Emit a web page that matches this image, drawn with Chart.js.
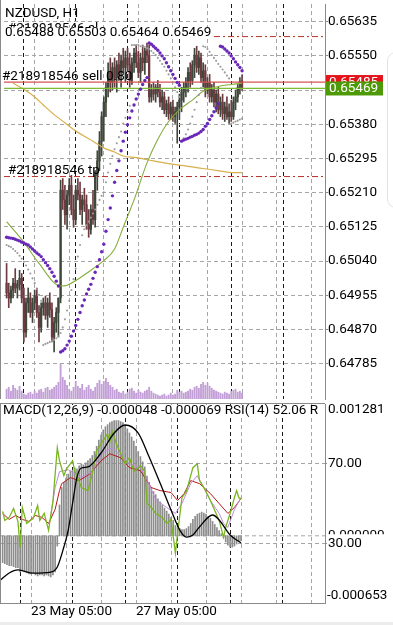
<!DOCTYPE html>
<html>
<head>
<meta charset="utf-8">
<title>NZDUSD, H1</title>
<script src="https://cdn.jsdelivr.net/npm/chart.js@4.4.1/dist/chart.umd.min.js"></script>
<style>
  html, body { margin: 0; padding: 0; background: #fff; }
  #wrap { position: relative; width: 393px; height: 625px; overflow: hidden; }
  #mainBox { position: absolute; left: 0; top: 0; width: 393px; height: 403px; }
  #subBox { position: absolute; left: 0; top: 403px; width: 393px; height: 222px; }
  #tab { position: absolute; left: 387px; top: 52px; width: 24px; height: 154px; border: 1px solid #e2e2e2; border-radius: 9px; }
  #foot { position: absolute; left: 0; top: 622px; width: 393px; height: 3px; background: #ececec; }
</style>
</head>
<body>
<div id="wrap">
  <div id="mainBox"><canvas id="mainChart"></canvas></div>
  <div id="subBox"><canvas id="subChart"></canvas></div>
  <div id="tab"></div>
  <div id="foot"></div>
</div>
<script>
Chart.defaults.font.family = 'Roboto';
Chart.defaults.font.size = 13.5;
Chart.defaults.color = '#000';

// hourly candles, 22 May 16:00 .. 29 May 05:00 (index 0..109)
const open = [
  0.64985,0.64961,0.64948,0.64968,0.64985,0.64973,0.64982,0.64997,
  0.64948,0.64863,0.64936,0.64948,0.64912,0.64936,0.64953,0.64912,
  0.64875,0.64924,0.64936,0.64905,0.64936,0.64919,0.64851,0.64887,
  0.64912,0.64948,0.65216,0.65192,0.65155,0.65204,0.65228,0.65168,
  0.65143,0.65216,0.65204,0.65168,0.65192,0.65180,0.65131,0.65119,
  0.65168,0.65143,0.65253,0.65289,0.65338,0.65399,0.65435,0.65472,
  0.65509,0.65484,0.65521,0.65496,0.65528,0.65509,0.65538,0.65521,
  0.65545,0.65528,0.65489,0.65533,0.65557,0.65533,0.65509,0.65545,
  0.65533,0.65562,0.65552,0.65448,0.65465,0.65455,0.65472,0.65460,
  0.65435,0.65448,0.65416,0.65431,0.65406,0.65423,0.65399,0.65411,
  0.65423,0.65440,0.65460,0.65472,0.65484,0.65509,0.65489,0.65528,
  0.65552,0.65521,0.65545,0.65496,0.65513,0.65465,0.65484,0.65448,
  0.65465,0.65435,0.65455,0.65416,0.65435,0.65406,0.65423,0.65399,
  0.65411,0.65399,0.65435,0.65448,0.65472,0.65488
];
const high = [
  0.65034,0.64985,0.64978,0.64997,0.65021,0.64992,0.65017,0.65009,
  0.64973,0.64948,0.64973,0.64961,0.64948,0.64968,0.64973,0.64929,
  0.64936,0.64948,0.64953,0.64948,0.64961,0.64936,0.64900,0.64924,
  0.64948,0.65241,0.65245,0.65228,0.65216,0.65245,0.65253,0.65204,
  0.65228,0.65245,0.65236,0.65204,0.65221,0.65204,0.65168,0.65180,
  0.65216,0.65265,0.65314,0.65362,0.65411,0.65448,0.65484,0.65533,
  0.65545,0.65533,0.65545,0.65538,0.65557,0.65552,0.65569,0.65562,
  0.65569,0.65557,0.65545,0.65569,0.65577,0.65562,0.65557,0.65577,
  0.65569,0.65582,0.65577,0.65479,0.65484,0.65479,0.65489,0.65479,
  0.65465,0.65460,0.65440,0.65448,0.65435,0.65440,0.65423,0.65435,
  0.65455,0.65472,0.65484,0.65496,0.65521,0.65533,0.65538,0.65569,
  0.65574,0.65562,0.65557,0.65533,0.65528,0.65496,0.65504,0.65479,
  0.65484,0.65465,0.65472,0.65448,0.65455,0.65435,0.65448,0.65431,
  0.65440,0.65448,0.65465,0.65479,0.65496,0.65503
];
const low = [
  0.64948,0.64924,0.64936,0.64948,0.64961,0.64948,0.64968,0.64936,
  0.64839,0.64851,0.64912,0.64900,0.64887,0.64919,0.64900,0.64839,
  0.64863,0.64905,0.64895,0.64875,0.64900,0.64839,0.64814,0.64863,
  0.64851,0.64936,0.65168,0.65131,0.65119,0.65180,0.65155,0.65124,
  0.65131,0.65192,0.65155,0.65131,0.65163,0.65119,0.65099,0.65107,
  0.65131,0.65124,0.65216,0.65265,0.65301,0.65338,0.65399,0.65448,
  0.65460,0.65465,0.65472,0.65460,0.65489,0.65472,0.65509,0.65484,
  0.65513,0.65472,0.65479,0.65509,0.65521,0.65496,0.65484,0.65513,
  0.65504,0.65533,0.65435,0.65435,0.65440,0.65435,0.65448,0.65423,
  0.65416,0.65406,0.65399,0.65392,0.65392,0.65387,0.65382,0.65333,
  0.65392,0.65411,0.65435,0.65448,0.65460,0.65472,0.65479,0.65496,
  0.65509,0.65504,0.65484,0.65472,0.65448,0.65455,0.65435,0.65435,
  0.65423,0.65411,0.65406,0.65399,0.65392,0.65387,0.65392,0.65382,
  0.65387,0.65392,0.65416,0.65435,0.65455,0.65464
];
const close = [
  0.64961,0.64948,0.64968,0.64985,0.64973,0.64982,0.64997,0.64948,
  0.64863,0.64936,0.64948,0.64912,0.64936,0.64953,0.64912,0.64875,
  0.64924,0.64936,0.64905,0.64936,0.64919,0.64851,0.64887,0.64912,
  0.64948,0.65216,0.65192,0.65155,0.65204,0.65228,0.65168,0.65143,
  0.65216,0.65204,0.65168,0.65192,0.65180,0.65131,0.65119,0.65168,
  0.65143,0.65253,0.65289,0.65338,0.65399,0.65435,0.65472,0.65509,
  0.65484,0.65521,0.65496,0.65528,0.65509,0.65538,0.65521,0.65545,
  0.65528,0.65489,0.65533,0.65557,0.65533,0.65509,0.65545,0.65533,
  0.65562,0.65552,0.65448,0.65465,0.65455,0.65472,0.65460,0.65435,
  0.65448,0.65416,0.65431,0.65406,0.65423,0.65399,0.65411,0.65423,
  0.65440,0.65460,0.65472,0.65484,0.65509,0.65489,0.65528,0.65552,
  0.65521,0.65545,0.65496,0.65513,0.65465,0.65484,0.65448,0.65465,
  0.65435,0.65455,0.65416,0.65435,0.65406,0.65423,0.65399,0.65411,
  0.65399,0.65435,0.65448,0.65472,0.65487,0.65469
];
const volume = [
  500,600,400,700,550,450,650,400,
  250,200,300,350,250,400,300,450,500,350,550,600,450,500,600,700,850,
  1800,
  1100,950,700,500,400,600,900,650,550,750,450,600,700,500,400,
  600,800,950,750,900,1050,850,
  700,600,450,500,350,300,400,250,350,500,550,400,300,450,350,300,400,450,
  600,400,300,250,200,150,200,250,150,200,300,200,250,450,
  350,400,300,350,400,500,450,600,650,550,
  750,850,700,800,650,550,450,400,350,300,250,350,300,250,400,
  450,500,350,400,300
];
// parabolic SAR (purple) and a faster SAR (grey)
const sarSlow = [
  0.65099,0.65098,0.65097,0.65096,0.65094,0.65092,0.65090,0.65087,0.65085,0.65082,
  0.65080,0.65075,0.65070,0.65065,0.65060,0.65056,0.65051,0.65043,0.65036,0.65029,
  0.65021,0.65012,0.65002,0.64990,0.64978,
  0.64814,0.64817,0.64822,0.64831,0.64841,0.64853,0.64866,0.64880,0.64895,0.64912,
  0.64929,0.64943,0.64958,0.64970,0.64982,0.64997,0.65012,0.65026,0.65043,0.65063,
  0.65082,0.65114,0.65143,0.65172,0.65202,0.65236,0.65265,0.65289,0.65314,0.65338,
  0.65360,0.65379,0.65396,0.65413,0.65428,0.65443,0.65455,0.65467,0.65479,0.65489,0.65496,
  0.65582,0.65579,0.65574,0.65569,0.65564,0.65557,0.65550,0.65543,0.65533,0.65523,
  0.65513,0.65504,0.65494,0.65484,0.65477,
  0.65338,0.65341,0.65343,0.65345,0.65348,0.65350,0.65353,0.65355,0.65358,0.65362,
  0.65367,0.65375,0.65382,0.65392,0.65401,0.65411,0.65421,0.65431,
  0.65574,0.65572,0.65567,0.65562,0.65557,0.65550,0.65543,0.65535,0.65528,0.65521,0.65513
];
const sarFast = [
  0.65080,0.65077,0.65075,0.65070,0.65065,0.65060,0.65053,0.65046,0.65038,0.65029,
  0.65019,0.65009,0.64997,0.64985,0.64970,0.64956,0.64941,
  0.64831,0.64834,0.64836,0.64839,0.64841,0.64844,0.64848,0.64853,0.64861,0.64875,
  0.64895,0.64917,0.64941,0.64968,0.64995,0.65021,0.65051,0.65080,0.65104,0.65119,
  0.65129,0.65138,0.65148,0.65158,0.65168,0.65180,0.65192,0.65202,0.65211,0.65236,
  0.65260,0.65282,0.65301,0.65318,0.65333,0.65348,0.65362,0.65382,0.65396,0.65411,0.65426,
  0.65577,0.65577,0.65577,0.65577,0.65574,0.65574,0.65572,0.65569,0.65567,0.65562,
  0.65557,0.65552,0.65545,0.65538,0.65530,0.65523,0.65513,0.65504,0.65494,0.65484,
  0.65472,0.65460,0.65448,
  0.65338,0.65345,0.65355,0.65367,0.65382,0.65399,0.65416,0.65435,0.65453,0.65470,
  0.65574,0.65572,0.65567,0.65560,0.65552,0.65545,0.65538,0.65530,0.65523,0.65516,
  0.65509,0.65501,0.65494,
  0.65382,0.65384,0.65387,0.65389,0.65392,0.65394
];
const maFastIdx = [0, 8, 15, 25, 28, 40, 45, 50, 54, 59, 65, 70, 75, 80, 86, 91, 98, 104, 109];
const maFastVal = [0.65138,0.65087,0.65034,0.64978,0.64980,0.65021,0.65041,0.65070,0.65124,0.65192,
  0.65284,0.65343,0.65387,0.65416,0.65440,0.65462,0.65474,0.65479,0.65482];
const maSlowIdx = [3, 8, 13, 17, 22, 27, 31, 36, 40, 45, 50, 54, 60, 68, 75, 82, 88, 95, 100, 104, 109];
const maSlowVal = [0.65482,0.65467,0.65448,0.65428,0.65404,0.65384,0.65367,0.65350,0.65338,0.65321,
  0.65311,0.65301,0.65297,0.65289,0.65282,0.65277,0.65272,0.65267,0.65263,0.65260,0.65260];

const priceTicks = [0.65635,0.65550,0.65465,0.65380,0.65295,0.65210,0.65125,0.65040,0.64955,0.64870,0.64785];
const gridIdx = [13, 29, 45, 61, 77, 93, 109, 125, 141];
const daySepIdx = [8, 32, 56, 80, 104, 128];
const timeIdx = [13, 61];
const timeLabels = ['23 May 05:00', '27 May 05:00'];

const slPrice = 0.65598, sellPrice = 0.65485, bidPrice = 0.65469, tpPrice = 0.65250;
const symbolText = 'NZDUSD, H1';
const ohlcText = '0.65488 0.65503 0.65464 0.65469';
const slLabel = '#218918546 sl';
const sellLabel = '#218918546 sell 0.80';
const tpLabel = '#218918546 tp';

// MACD / RSI panel
const macdHist = [
  -0.00026,-0.00027,-0.00028,-0.00029,-0.00029,-0.00030,-0.00031,-0.00031,-0.00035,-0.00034,
  -0.00035,-0.00036,-0.00037,-0.00037,-0.00036,-0.00038,-0.00039,-0.00038,-0.00038,-0.00039,
  -0.00038,-0.00039,-0.00040,-0.00038,-0.00035,
  -0.00010,0.00030,0.00047,0.00052,0.00056,0.00060,0.00063,0.00064,0.00066,0.00065,
  0.00068,0.00070,0.00069,0.00071,0.00073,0.00075,0.00078,0.00082,0.00087,0.00093,
  0.00098,0.00103,0.00106,0.00108,0.00110,0.00111,0.00112,0.00112,0.00112,0.00111,
  0.00110,0.00107,0.00104,0.00100,0.00096,0.00092,0.00087,0.00082,0.00077,0.00072,
  0.00067,0.00058,0.00052,0.00047,0.00043,0.00040,0.00036,0.00033,0.00030,0.00027,
  0.00024,0.00021,0.00018,0.00015,0.00010,0.00008,0.00007,0.00006,0.00006,0.00007,
  0.00009,0.00012,0.00016,0.00019,0.00021,0.00022,0.00023,0.00022,0.00021,0.00019,
  0.00017,0.00014,0.00011,0.00008,0.00005,0.00002,-0.00002,-0.00006,-0.00009,-0.00011,
  -0.00011,-0.00010,-0.00008,-0.00006,-0.000048
];
const signalIdx = [-1, 3, 7, 14, 22, 25, 28, 30, 32, 34, 36, 39, 45, 51, 56, 62, 67, 72, 77, 81, 84, 87, 90, 96, 99, 104, 109];
const signalVal = [-0.000430,-0.000362,-0.000332,-0.000362,-0.000352,-0.000303,-0.000109,0.000056,0.000319,
  0.000571,0.000659,0.000669,0.000805,0.000999,0.001077,0.000999,0.000766,0.000513,0.000251,0.000056,
  -0.000012,0.000008,0.000086,0.000202,0.000154,0.000008,-0.000069];
const rsiIdx = [0,1,3,5,7,8,9,11,14,16,17,19,21,23,25,26,28,29,32,33,34,36,39,41,43,45,48,49,50,52,
  54,56,58,60,63,65,66,68,70,73,75,77,79,80,82,84,87,89,90,92,95,97,99,101,102,104,106,107,108,109];
const rsiVal = [46,41.5,43,47.5,41,28,48,40,42.5,49,41.5,45,36.5,51,78,71.5,64,67,71.5,66,
  64,58,56.5,65,76.5,80,85,81,86.5,80,75,70,73,66,69,66,50,48,45,43,
  40,42,25,35,53,56,68,70,61.5,58,51.5,46.5,41.5,33,38,45,53,56.5,53,52.06];
const rsiRedIdx = [0,3,6,9,12,15,18,21,24,26,27,31,35,40,45,49,54,58,63,68,72,77,80,83,86,90,95,99,103,106,109];
const rsiRedVal = [45,42,44,42,41,44,43,40,47,56.5,60,63,61.5,65,71.5,75,73,68,66.5,58,
  56.5,55.5,51.5,55,61.5,60,55,50,45,48,52.5];
const rsiPurpleIdx = [22,24,26,30,36,41,45,50,54,58,63,66,70,75,79,82,86,89,92,95,99,101,103,106,109];
const rsiPurpleVal = [44,58,66,67,63,66,75,78,74,70,68,62,52,48,45,50,60,64,58,51.5,45,40,38,47,53];
const rsiTicks = [70, 30];
const macdMin = -0.000653, macdMax = 0.001281;
const subTitle = 'MACD(12,26,9) -0.000048 -0.000069 RSI(14) 52.06 R';

const xMin = -1.2, xMax = 147.4;
const idx = open.map((_, i) => i);
const pts = (xs, ys) => xs.map((x, k) => ({x: x, y: ys[k]}));
const upColor = '#3f463a', downColor = '#6e3a40';
const candleColor = idx.map(i => close[i] >= open[i] ? upColor : downColor);
const vLines = gridIdx.concat(daySepIdx).sort((a, b) => a - b);

function xAxis(showLabels) {
    return {
        type: 'linear', min: xMin, max: xMax, offset: false,
        afterBuildTicks: s => { s.ticks = vLines.map(v => ({value: v})); },
        grid: {
            offset: false, drawTicks: false, lineWidth: 1,
            color: c => (c.tick && daySepIdx.includes(c.tick.value)) ? '#1a1a1a' : '#a6a6a6'
        },
        border: { display: showLabels, color: '#8a8a8a', dash: [4, 3] },
        ticks: {
            display: showLabels, autoSkip: false, maxRotation: 0, minRotation: 0, align: 'start', padding: 1,
            callback: v => { const k = timeIdx.indexOf(v); return k < 0 ? '' : timeLabels[k]; }
        },
        afterFit: s => { s.height = showLabels ? 22 : 0; s.paddingLeft = 0; s.paddingRight = 0; }
    };
}

function hLine(label, price, color, dash, width) {
    return {
        type: 'line', label: label, yAxisID: 'y',
        data: [{x: xMin, y: price}, {x: xMax, y: price}],
        borderColor: color, borderDash: dash, borderWidth: width, pointRadius: 0, order: 5
    };
}

const mainText = {
    id: 'mainText',
    afterDraw(chart) {
        const {ctx, chartArea: a, scales: {y}} = chart;
        ctx.save();
        ctx.strokeStyle = '#8a8a8a';
        ctx.lineWidth = 1;
        ctx.beginPath();
        ctx.moveTo(0.5, 0);
        ctx.lineTo(0.5, a.bottom);
        ctx.stroke();

        ctx.font = '13.5px Roboto';
        ctx.textAlign = 'left';
        ctx.fillStyle = '#000';
        ctx.textBaseline = 'alphabetic';
        ctx.fillText(slLabel, 8, y.getPixelForValue(slPrice) - 5);
        ctx.fillText(sellLabel, 2, y.getPixelForValue(sellPrice) - 2);
        ctx.fillText(tpLabel, 8, y.getPixelForValue(tpPrice) - 3);

        ctx.textBaseline = 'middle';
        const w = ctx.measureText(ohlcText).width;
        ctx.fillStyle = '#fff';
        ctx.fillRect(3, 27.5, w + 4, 11);
        ctx.fillStyle = '#000';
        ctx.fillText(ohlcText, 5, 32.5);
        ctx.fillText(symbolText, 5, 13.5);

        const box = (price, color) => {
            const py = y.getPixelForValue(price);
            ctx.fillStyle = color;
            ctx.fillRect(a.right + 1, py - 7, 57, 14);
            ctx.fillStyle = '#fff';
            ctx.fillText(price.toFixed(5), a.right + 4, py + 0.5);
        };
        box(sellPrice, '#e3141b');
        box(bidPrice, '#4e9a06');
        ctx.restore();
    }
};

const subText = {
    id: 'subText',
    beforeDraw(chart) {
        const {ctx, chartArea: a, scales: {macd}} = chart;
        ctx.save();
        ctx.font = '13.5px Roboto';
        ctx.fillStyle = '#000';
        ctx.textBaseline = 'middle';
        ctx.textAlign = 'left';
        ctx.fillText((0).toFixed(6), a.right + 3, macd.getPixelForValue(0));
        ctx.restore();
    },
    afterDraw(chart) {
        const {ctx, chartArea: a} = chart;
        ctx.save();
        ctx.strokeStyle = '#8a8a8a';
        ctx.lineWidth = 1;
        ctx.beginPath();
        ctx.moveTo(0, 0.5);
        ctx.lineTo(a.right, 0.5);
        ctx.moveTo(0.5, 0);
        ctx.lineTo(0.5, a.bottom);
        ctx.stroke();

        ctx.font = '13.5px Roboto';
        ctx.textBaseline = 'middle';
        ctx.textAlign = 'left';
        ctx.save();
        ctx.beginPath();
        ctx.rect(1, a.top, a.right - 2, 16);
        ctx.clip();
        const w = ctx.measureText(subTitle).width;
        ctx.fillStyle = '#fff';
        ctx.fillRect(2, a.top + 1, w + 2, 13);
        ctx.fillStyle = '#000';
        ctx.fillText(subTitle, 3, a.top + 6.5);
        ctx.restore();

        ctx.fillStyle = '#000';
        ctx.fillText(macdMax.toFixed(6), a.right + 3, a.top + 6);
        ctx.fillText(macdMin.toFixed(6), a.right + 2, a.bottom - 7);
        ctx.restore();
    }
};

new Chart(document.getElementById('mainChart'), {
    type: 'bar',
    data: {
        datasets: [
            { type: 'bar', label: 'Volume', yAxisID: 'vol', data: idx.map(i => ({x: i, y: volume[i]})),
              backgroundColor: '#c29fd6', barThickness: 1.2, grouped: false, order: 10 },
            { type: 'bar', label: 'Range', yAxisID: 'y', data: idx.map(i => ({x: i, y: [low[i], high[i]]})),
              backgroundColor: candleColor, barThickness: 1, grouped: false, order: 9 },
            { type: 'bar', label: 'Body', yAxisID: 'y', data: idx.map(i => ({x: i, y: [open[i], close[i]]})),
              backgroundColor: candleColor, barThickness: 1.6, minBarLength: 1, grouped: false, order: 8 },
            { type: 'line', label: 'MA slow', yAxisID: 'y', data: pts(maSlowIdx, maSlowVal),
              borderColor: '#d8b04a', borderWidth: 1.2, pointRadius: 0, cubicInterpolationMode: 'monotone', order: 7 },
            { type: 'line', label: 'MA fast', yAxisID: 'y', data: pts(maFastIdx, maFastVal),
              borderColor: '#86ad3c', borderWidth: 1.1, pointRadius: 0, cubicInterpolationMode: 'monotone', order: 6 },
            hLine('SL', slPrice, '#b8302a', [6, 3, 2, 3], 1),
            hLine('Sell', sellPrice, '#d9534f', [], 1.2),
            hLine('Bid', bidPrice, '#7dbb35', [], 1.2),
            hLine('TP', tpPrice, '#b8302a', [6, 3, 2, 3], 1),
            { type: 'line', label: 'SAR fast', yAxisID: 'y', data: idx.map(i => ({x: i, y: sarFast[i]})),
              showLine: false, pointRadius: 1.05, pointBackgroundColor: '#9b9b9b', pointBorderWidth: 0, order: 4 },
            { type: 'line', label: 'SAR', yAxisID: 'y', data: idx.map(i => ({x: i, y: sarSlow[i]})),
              showLine: false, pointRadius: 1.7, pointBackgroundColor: '#6a28b8', pointBorderWidth: 0, order: 3 }
        ]
    },
    options: {
        responsive: true, maintainAspectRatio: false, animation: false,
        layout: { padding: 0 },
        plugins: { legend: { display: false }, tooltip: { enabled: false } },
        scales: {
            x: xAxis(false),
            y: {
                position: 'right', min: 0.64697, max: 0.65679,
                afterBuildTicks: s => { s.ticks = priceTicks.map(v => ({value: v})); },
                ticks: { autoSkip: false, padding: 0, color: '#000', callback: v => v.toFixed(5) },
                grid: { color: '#a6a6a6', tickLength: 3, tickColor: '#8a8a8a' },
                border: { color: '#8a8a8a', dash: [4, 3] },
                afterFit: s => { s.width = 68; s.paddingTop = 0; s.paddingBottom = 0; }
            },
            vol: { display: false, min: 0, max: 20150 }
        }
    },
    plugins: [mainText]
});

new Chart(document.getElementById('subChart'), {
    type: 'bar',
    data: {
        datasets: [
            { type: 'line', label: 'zero', yAxisID: 'macd', data: [{x: xMin, y: 0}, {x: xMax, y: 0}],
              borderColor: '#a6a6a6', borderDash: [4, 3], borderWidth: 1, pointRadius: 0, order: 10 },
            { type: 'bar', label: 'MACD', yAxisID: 'macd', data: idx.map(i => ({x: i, y: macdHist[i]})),
              backgroundColor: '#8c8c8c', barThickness: 1, grouped: false, order: 9 },
            { type: 'line', label: 'RSI slow', yAxisID: 'rsi', data: pts(rsiRedIdx, rsiRedVal),
              borderColor: '#b3191c', borderWidth: 1, pointRadius: 0, order: 6 },
            { type: 'line', label: 'RSI mid', yAxisID: 'rsi', data: pts(rsiPurpleIdx, rsiPurpleVal),
              borderColor: '#c08ad8', borderWidth: 1, pointRadius: 0, order: 5 },
            { type: 'line', label: 'RSI(14)', yAxisID: 'rsi', data: pts(rsiIdx, rsiVal),
              borderColor: '#78b51e', borderWidth: 1.3, pointRadius: 0, order: 4 },
            { type: 'line', label: 'Signal', yAxisID: 'macd', data: pts(signalIdx, signalVal),
              borderColor: '#000', borderWidth: 1.3, pointRadius: 0, cubicInterpolationMode: 'monotone', order: 3 }
        ]
    },
    options: {
        responsive: true, maintainAspectRatio: false, animation: false,
        layout: { padding: { top: 1 } },
        plugins: { legend: { display: false }, tooltip: { enabled: false } },
        scales: {
            x: xAxis(true),
            rsi: {
                position: 'right', min: 0, max: 100,
                afterBuildTicks: s => { s.ticks = rsiTicks.map(v => ({value: v})); },
                ticks: {
                    autoSkip: false, padding: 0, color: '#000', callback: v => v.toFixed(2),
                    showLabelBackdrop: true, backdropColor: '#fff',
                    backdropPadding: { top: 1, bottom: 1, left: 1, right: 24 }
                },
                grid: { color: '#a6a6a6', tickLength: 3, tickColor: '#8a8a8a' },
                border: { color: '#8a8a8a', dash: [4, 3] },
                afterFit: s => { s.width = 68; s.paddingTop = 0; s.paddingBottom = 0; }
            },
            macd: { display: false, min: macdMin, max: macdMax }
        }
    },
    plugins: [subText]
});
</script>
</body>
</html>
